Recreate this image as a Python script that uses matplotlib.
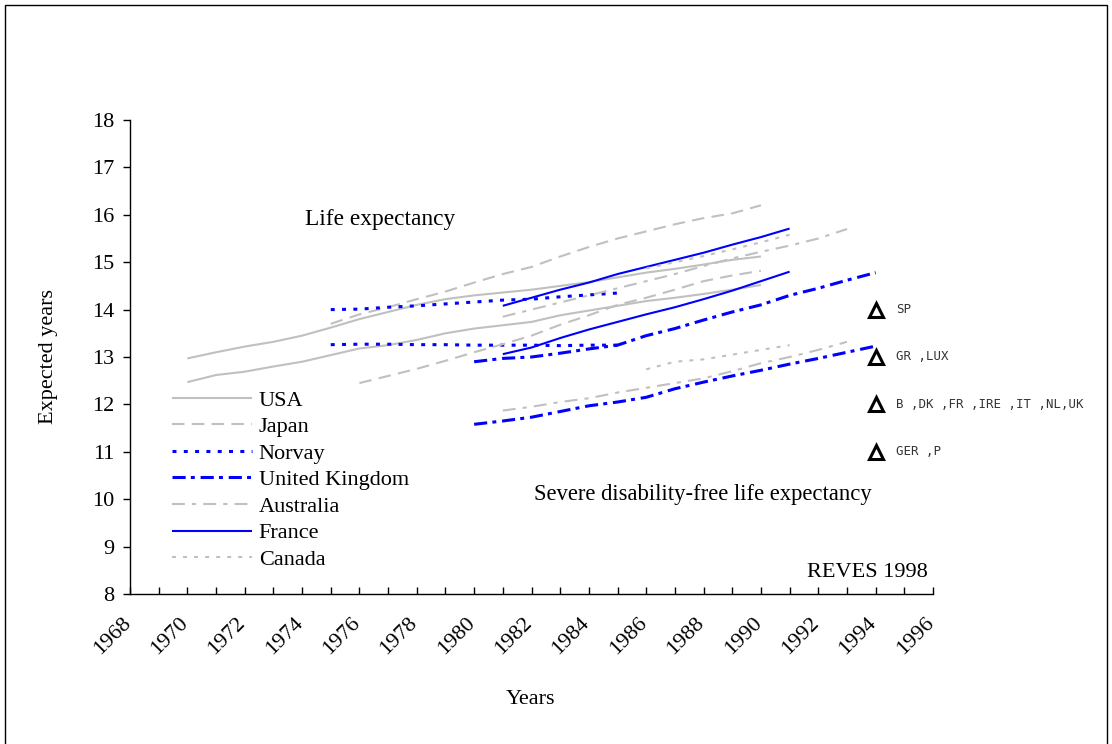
import matplotlib
matplotlib.use("Agg")
import matplotlib.pyplot as plt
import matplotlib.transforms as mtransforms
from matplotlib.patches import Rectangle

# ----------------------------- data -----------------------------
usa_years = list(range(1970, 1991))
usa_le = [12.97, 13.10, 13.22, 13.32, 13.45, 13.62, 13.80, 13.95, 14.10, 14.22, 14.30,
          14.36, 14.42, 14.50, 14.58, 14.68, 14.78, 14.86, 14.95, 15.05, 15.12]
usa_dfle = [12.47, 12.62, 12.69, 12.80, 12.90, 13.04, 13.18, 13.25, 13.36, 13.50, 13.60,
            13.67, 13.74, 13.88, 13.98, 14.08, 14.18, 14.25, 14.33, 14.42, 14.52]

japan_le_years = list(range(1975, 1991))
japan_le = [13.70, 13.90, 14.05, 14.22, 14.38, 14.57, 14.75, 14.90, 15.12, 15.32, 15.50,
            15.65, 15.80, 15.93, 16.03, 16.20]
japan_dfle_years = list(range(1976, 1991))
japan_dfle = [12.45, 12.60, 12.75, 12.92, 13.10, 13.27, 13.45, 13.68, 13.88, 14.10,
              14.25, 14.42, 14.60, 14.72, 14.82]

norway_years = list(range(1975, 1986))
norway_le = [14.00, 14.01, 14.05, 14.08, 14.12, 14.16, 14.20, 14.22, 14.27, 14.31, 14.35]
norway_dfle = [13.26, 13.27, 13.27, 13.26, 13.26, 13.25, 13.25, 13.25, 13.24, 13.25, 13.25]

uk_years = list(range(1980, 1995))
uk_le = [12.90, 12.97, 13.00, 13.08, 13.17, 13.25, 13.45, 13.60, 13.78, 13.95, 14.10,
         14.30, 14.45, 14.62, 14.78]
uk_dfle = [11.58, 11.65, 11.73, 11.85, 11.97, 12.05, 12.15, 12.33, 12.47, 12.60, 12.72,
           12.85, 12.97, 13.10, 13.23]

australia_years = list(range(1981, 1994))
australia_le = [13.85, 14.00, 14.15, 14.30, 14.45, 14.60, 14.75, 14.92, 15.08, 15.22,
                15.35, 15.50, 15.70]
australia_dfle = [11.87, 11.95, 12.05, 12.13, 12.25, 12.35, 12.45, 12.55, 12.70, 12.87,
                  13.00, 13.15, 13.32]

france_years = list(range(1981, 1992))
france_le = [14.08, 14.25, 14.42, 14.57, 14.75, 14.90, 15.05, 15.20, 15.37, 15.53, 15.71]
france_dfle = [13.06, 13.20, 13.40, 13.58, 13.74, 13.90, 14.05, 14.22, 14.40, 14.60, 14.80]

canada_years = list(range(1986, 1992))
canada_le = [14.87, 15.00, 15.13, 15.27, 15.42, 15.58]
canada_dfle = [12.74, 12.90, 12.95, 13.05, 13.15, 13.25]

# countries with a single 1994 estimate, plotted as triangles at the right
marker_year = 1994
marker_values = [14, 13, 12, 11]
marker_labels = ["SP", "GR ,LUX", "B ,DK ,FR ,IRE ,IT ,NL,UK", "GER ,P"]

year_ticks = list(range(1968, 1997))

# ---------------------------- styles ----------------------------
GREY = "#c0c0c0"
BLUE = "#0000ff"
series = [
    ("USA",            usa_years,       usa_le,       usa_dfle,       GREY, "-",                         1.5),
    ("Japan",          japan_le_years,  japan_le,     None,           GREY, (0, (6, 3.5)),               1.5),
    ("Norvay",         norway_years,    norway_le,    norway_dfle,    BLUE, (0, (1.3, 2.4)),             2.2),
    ("United Kingdom", uk_years,        uk_le,        uk_dfle,        BLUE, (0, (4.3, 1.7, 1.3, 1.9)),   2.2),
    ("Australia",      australia_years, australia_le, australia_dfle, GREY, (0, (6.2, 3.4, 2, 3.4)),     1.5),
    ("France",         france_years,    france_le,    france_dfle,    BLUE, "-",                         1.5),
    ("Canada",         canada_years,    canada_le,    canada_dfle,    GREY, (0, (1.9, 3.4)),             1.5),
]

plt.rcParams["font.family"] = ["Liberation Serif", "DejaVu Serif"]
plt.rcParams["font.size"] = 16

W, H, DPI = 1112, 744, 100
fig = plt.figure(figsize=(W / DPI, H / DPI), dpi=DPI)
ax = fig.add_axes([130 / W, 1 - 594 / H, (933 - 130) / W, (594 - 120) / H])

for name, yrs, le, dfle, color, ls, lw in series:
    ax.plot(yrs, le, color=color, ls=ls, lw=lw, label=name, solid_capstyle="butt",
            dash_capstyle="butt")
    if dfle is not None:
        ax.plot(yrs, dfle, color=color, ls=ls, lw=lw, solid_capstyle="butt",
                dash_capstyle="butt")
# Japan's DFLE series starts a year later than its LE series
ax.plot(japan_dfle_years, japan_dfle, color=GREY, ls=(0, (6, 3.5)), lw=1.5,
        dash_capstyle="butt")

ax.plot([marker_year] * len(marker_values), marker_values, ls="none", marker="^",
        ms=10, mfc="white", mec="black", mew=2.2)
for v, lab in zip(marker_values, marker_labels):
    ax.text(marker_year + 0.7, v, lab, family="DejaVu Sans Mono", fontsize=8.9,
            va="center", ha="left", color="#333333")

ax.text(1974.1, 15.9, "Life expectancy", va="center", ha="left", fontsize=16.8)
ax.text(1982.1, 10.1, "Severe disability-free life expectancy", va="center", ha="left",
        fontsize=16.3)
ax.text(1991.6, 8.45, "REVES 1998", va="center", ha="left")

ax.set_xlim(1968, 1996)
ax.set_ylim(8, 18)
ax.set_yticks(range(8, 19))
ax.set_xticks(year_ticks)
ax.set_xticklabels([str(y) if y % 2 == 0 else "" for y in year_ticks],
                   rotation=45, ha="right", va="center", rotation_mode="anchor")
ax.tick_params(axis="x", direction="in", length=5, width=1, pad=19)
ax.tick_params(axis="y", direction="out", length=5, width=1, pad=6)
shift = mtransforms.ScaledTranslation(-2 / DPI, 0, fig.dpi_scale_trans)
for lbl in ax.get_xticklabels():
    lbl.set_transform(lbl.get_transform() + shift)

for side in ("top", "right"):
    ax.spines[side].set_visible(False)
for side in ("left", "bottom"):
    ax.spines[side].set_linewidth(1)

ax.set_ylabel("Expected years", labelpad=25)
ax.set_xlabel("Years")
ax.xaxis.set_label_coords(531 / W, 1 - 690 / H, transform=fig.transFigure)

ax.legend(loc="upper left", frameon=False, handlelength=3.6, handletextpad=0.3,
          labelspacing=0.27, borderpad=0, borderaxespad=0)
leg = ax.get_legend()
leg.set_bbox_to_anchor((172, H - 390), transform=mtransforms.IdentityTransform())

# outer chart frame
fig.patches.append(Rectangle((5 / W, -0.01), (1107 - 5) / W, (H - 5) / H + 0.01,
                             transform=fig.transFigure, fill=False, ec="black", lw=1))

fig.savefig("out.png", dpi=DPI)
